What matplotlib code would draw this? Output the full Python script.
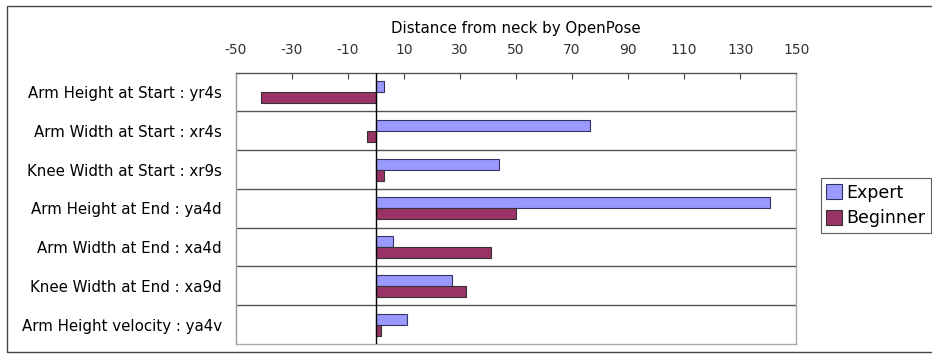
#Distance from neck by OpenPose - horizontal grouped bars

import numpy as np
import matplotlib.pyplot as plt
from matplotlib.patches import Rectangle

#data
categories = ['Arm Height at Start : yr4s',
              'Arm Width at Start : xr4s',
              'Knee Width at Start : xr9s',
              'Arm Height at End : ya4d',
              'Arm Width at End : xa4d',
              'Knee Width at End : xa9d',
              'Arm Height velocity : ya4v']
expert = [3, 76.5, 44, 140.5, 6, 27, 11]
beginner = [-41, -3, 3, 50, 41, 32, 2]
x_ticks = list(range(-50, 151, 20))

fig = plt.figure(figsize=(9.32, 3.54), dpi=100)
ax = fig.add_axes([235.7/932, 1-344/354, (796.3-235.7)/932, (344-72.7)/354])

y = np.arange(len(categories))
h = 0.286
ax.barh(y - h/2, expert, height=h, color='#9999FF', edgecolor='#333366', linewidth=0.8, label='Expert', zorder=3)
ax.barh(y + h/2, beginner, height=h, color='#993366', edgecolor='#333333', linewidth=0.8, label='Beginner', zorder=3)

ax.set_xlim(-50, 150)
ax.set_ylim(len(categories)-0.5, -0.5)

#x axis on top
ax.xaxis.tick_top()
ax.set_xticks(x_ticks)
ax.set_xticklabels([str(v) for v in x_ticks], fontsize=10, color='#333333')
ax.tick_params(axis='x', direction='in', length=4, width=0.8, color='#444444', pad=11)

#category labels
ax.set_yticks(y)
ax.set_yticklabels(categories, fontsize=10.8)
ax.tick_params(axis='y', length=0, pad=10)

#row separators
ax.set_yticks(np.arange(0.5, len(categories)-0.5, 1), minor=True)
ax.tick_params(axis='y', which='minor', length=0)
ax.grid(axis='y', which='minor', color='#555555', linewidth=1.0, zorder=1)

ax.axvline(0, color='black', linewidth=1.0, zorder=4)

ax.spines['top'].set_color('#555555')
ax.spines['left'].set_color('#999999')
ax.spines['right'].set_color('#aaaaaa')
ax.spines['bottom'].set_color('#aaaaaa')
for s in ax.spines.values():
    s.set_linewidth(1.0)

fig.text(516/932, 1-29/354, 'Distance from neck by OpenPose', ha='center', va='center', fontsize=10.8)

leg = fig.legend(loc='upper left', bbox_to_anchor=(820.7/932, 1-178.3/354), fontsize=12.5,
                 frameon=True, fancybox=False, edgecolor='#333333', borderpad=0.3,
                 handlelength=0.95, handleheight=0.95, handletextpad=0.25, labelspacing=0.45,
                 borderaxespad=0)
leg.get_frame().set_linewidth(0.8)

#outer chart border
fig.patches.append(Rectangle((7/932, 1-351.5/354), 1.0, (351.5-6)/354, transform=fig.transFigure,
                             fill=False, edgecolor='#444444', linewidth=1.0))

plt.savefig('out.png', dpi=100)
